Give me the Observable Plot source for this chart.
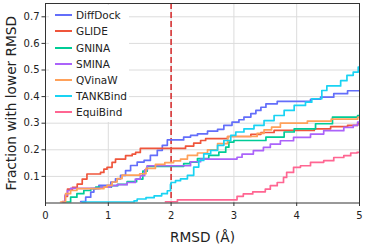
<!DOCTYPE html>
<html>
<head>
<meta charset="utf-8">
<script src="https://cdn.jsdelivr.net/npm/d3@7"></script>
<script src="https://cdn.jsdelivr.net/npm/@observablehq/plot@0.6"></script>
<style>
  html, body { margin: 0; padding: 0; background: white; }
  #wrap { position: relative; width: 366px; height: 244px; font-family: "DejaVu Sans", sans-serif; }
  #legend { position: absolute; left: 49px; top: 5px; width: 80px; padding-top: 2.2px; padding-bottom: 1px; background: white; }
  .row { height: 16.2px; display: flex; align-items: center; font-size: 10.5px; color: #222; }
  .sw { width: 17px; height: 2px; margin-left: 6px; margin-right: 4px; }
</style>
</head>
<body>
<div id="wrap"><div id="legend"></div></div>
<script>
const seriesNames = ["DiffDock", "GLIDE", "GNINA", "SMINA", "QVinaW", "TANKBind", "EquiBind"];
const seriesColors = ["#636EFA", "#EF553B", "#00CC96", "#AB63FA", "#FFA15A", "#19D3F3", "#FF6692"];
const xTicks = [0, 1, 2, 3, 4, 5];
const yTicks = [0.1, 0.2, 0.3, 0.4, 0.5, 0.6, 0.7];
const threshold = [2];

const diffDock = [[0.56,0.005],[0.64,0.022],[0.72,0.041],[0.77,0.054],[0.85,0.066],[1.04,0.079],[1.115,0.091],[1.195,0.104],[1.275,0.122],[1.355,0.141],[1.46,0.154],[1.57,0.16],[1.67,0.179],[1.78,0.198],[1.86,0.217],[1.94,0.237],[2.2,0.248],[2.31,0.254],[2.42,0.26],[2.58,0.27],[2.74,0.277],[2.84,0.292],[2.97,0.304],[3.08,0.313],[3.16,0.323],[3.27,0.336],[3.35,0.348],[3.43,0.36],[3.51,0.373],[3.69,0.382],[4.22,0.39],[4.38,0.398],[4.59,0.411],[4.81,0.422],[5,0.422]];
const glide = [[0.27,0.005],[0.31,0.025],[0.35,0.052],[0.43,0.059],[0.505,0.071],[0.585,0.09],[0.66,0.109],[0.876,0.115],[0.93,0.127],[0.98,0.134],[1.06,0.153],[1.115,0.165],[1.275,0.178],[1.38,0.184],[1.435,0.19],[1.51,0.205],[2.23,0.214],[2.36,0.225],[2.47,0.235],[2.55,0.242],[2.9,0.25],[3.27,0.258],[3.43,0.265],[3.64,0.273],[4.28,0.279],[4.54,0.287],[4.81,0.292],[4.97,0.298],[5,0.298]];
const gnina = [[0.29,0.003],[0.4,0.022],[0.5,0.035],[0.61,0.047],[0.72,0.054],[0.8,0.06],[1.05,0.065],[1.15,0.07],[1.3,0.08],[1.45,0.09],[1.55,0.12],[1.62,0.138],[2.2,0.148],[2.3,0.154],[2.42,0.167],[2.6,0.179],[2.76,0.191],[2.87,0.21],[2.92,0.229],[3.0,0.235],[3.51,0.248],[3.8,0.267],[3.96,0.279],[4.3,0.298],[4.57,0.323],[4.97,0.329],[5,0.329]];
const smina = [[0.27,0.003],[0.31,0.03],[0.35,0.047],[0.4,0.055],[0.88,0.06],[1.04,0.065],[1.14,0.069],[1.3,0.077],[1.43,0.09],[1.51,0.103],[1.58,0.125],[1.62,0.14],[2.31,0.155],[2.47,0.165],[3.05,0.172],[3.13,0.184],[3.31,0.197],[3.47,0.209],[3.58,0.221],[3.74,0.234],[3.95,0.247],[4.22,0.259],[4.43,0.272],[4.75,0.284],[4.9,0.292],[4.97,0.304],[5,0.304]];
const qvinaW = [[0.24,0.003],[0.32,0.035],[0.4,0.047],[0.5,0.054],[0.93,0.06],[0.98,0.066],[1.06,0.079],[1.14,0.092],[1.22,0.105],[1.5,0.11],[1.6,0.13],[1.75,0.145],[1.9,0.152],[2.04,0.158],[2.15,0.165],[2.26,0.179],[2.42,0.188],[2.58,0.2],[2.74,0.223],[2.9,0.25],[3.37,0.262],[3.48,0.275],[3.6,0.285],[3.74,0.3],[4.17,0.308],[4.55,0.315],[4.97,0.322],[5,0.322]];
const tankBind = [[0.585,0.003],[1.41,0.008],[1.46,0.015],[1.6,0.02],[1.73,0.027],[1.85,0.035],[1.94,0.046],[1.99,0.07],[2.0,0.077],[2.07,0.084],[2.15,0.091],[2.26,0.104],[2.36,0.135],[2.44,0.16],[2.52,0.185],[2.63,0.198],[2.74,0.217],[2.84,0.235],[2.95,0.254],[3.03,0.267],[3.16,0.279],[3.32,0.292],[3.48,0.31],[3.64,0.329],[3.8,0.348],[3.96,0.367],[4.14,0.379],[4.24,0.392],[4.4,0.423],[4.48,0.44],[4.7,0.46],[4.8,0.48],[4.9,0.492],[4.98,0.511],[5,0.511]];
const equiBind = [[1.91,0.004],[2.1,0.012],[3.05,0.025],[3.15,0.034],[3.3,0.042],[3.5,0.052],[3.58,0.065],[3.69,0.077],[3.79,0.096],[3.84,0.115],[3.95,0.134],[4.06,0.14],[4.22,0.153],[4.43,0.159],[4.59,0.171],[4.75,0.178],[4.86,0.188],[4.96,0.19],[5,0.19]];

const seriesData = [diffDock, glide, gnina, smina, qvinaW, tankBind, equiBind];
const xLabel = "RMSD (Å)";
const yLabel = "Fraction with lower RMSD";

const lineMarks = seriesData.map((s, i) =>
  Plot.line(s, {x: d => d[0], y: d => d[1], stroke: seriesColors[i], strokeWidth: 1.7, curve: "step-after", clip: true})
);

const chart = Plot.plot({
  width: 366,
  height: 244,
  marginLeft: 45,
  marginRight: 7,
  marginTop: 3,
  marginBottom: 41.5,
  x: {domain: [0, 5]},
  y: {domain: [0, 0.75]},
  style: {fontFamily: "DejaVu Sans", fontSize: "10px", color: "#222", background: "white", overflow: "visible"},
  marks: [
    Plot.gridX({ticks: xTicks, stroke: "#dcdcdc", strokeOpacity: 1, strokeWidth: 1}),
    Plot.gridY({ticks: yTicks, stroke: "#dcdcdc", strokeOpacity: 1, strokeWidth: 1}),
    Plot.ruleX(threshold, {stroke: "#d62728", strokeWidth: 1.5, strokeDasharray: "6,3"}),
    ...lineMarks,
    Plot.frame({stroke: "#333", strokeWidth: 1}),
    Plot.axisX({ticks: xTicks, tickSize: 3.5, tickPadding: 5.5, label: null, tickFormat: d => String(d), stroke: "#333"}),
    Plot.axisY({ticks: yTicks, tickSize: 3.5, tickPadding: 2.5, label: null, tickFormat: d => d.toFixed(1), stroke: "#333"}),
    Plot.text([xLabel], {text: d => d, frameAnchor: "bottom", dy: 38.5, fontSize: 13.7, fill: "#222"}),
    Plot.text([yLabel], {text: d => d, frameAnchor: "left", textAnchor: "middle", dx: -34, rotate: -90, fontSize: 13.7, fill: "#222"})
  ]
});

const wrap = document.getElementById("wrap");
wrap.insertBefore(chart, wrap.firstChild);

const legend = document.getElementById("legend");
seriesNames.forEach((name, i) => {
  const row = document.createElement("div");
  row.className = "row";
  const sw = document.createElement("span");
  sw.className = "sw";
  sw.style.background = seriesColors[i];
  const t = document.createElement("span");
  t.textContent = name;
  row.appendChild(sw);
  row.appendChild(t);
  legend.appendChild(row);
});
</script>
</body>
</html>
